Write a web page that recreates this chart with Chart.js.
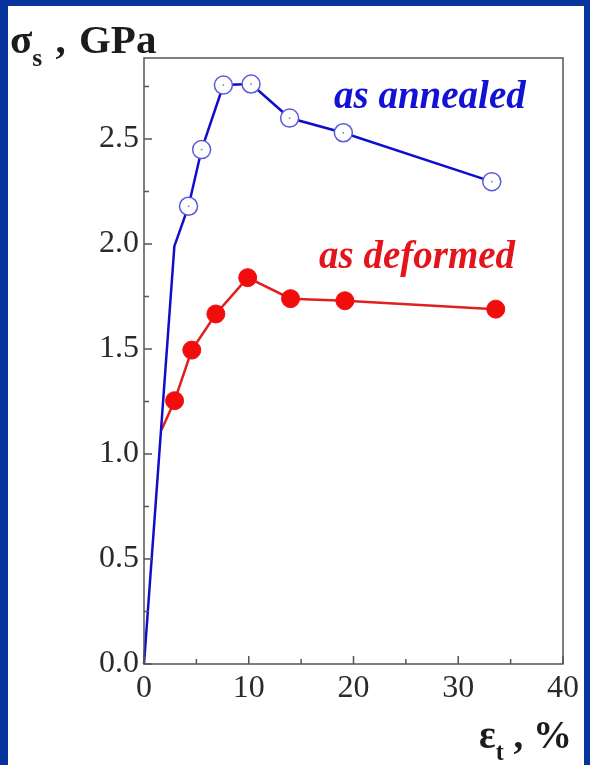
<!DOCTYPE html>
<html>
<head>
<meta charset="utf-8">
<script src="https://cdn.jsdelivr.net/npm/chart.js@4.4.1/dist/chart.umd.min.js"></script>
<style>
  html, body { margin: 0; padding: 0; }
  body { width: 590px; height: 765px; background: #07349c; position: relative; overflow: hidden; }
  #panel { position: absolute; left: 8px; top: 6px; width: 576px; height: 759px; background: #fff; }
  #chart { position: absolute; left: 0; top: 0; }
  .lbl { position: absolute; font-family: "Liberation Serif", "Times New Roman", serif; white-space: nowrap; line-height: 1; }
  .axt { font-weight: bold; color: #1c1c1c; }
  .axt sub { font-size: 0.62em; vertical-align: -0.5em; }
  .note { font-weight: bold; font-style: italic; font-size: 39px; }
</style>
</head>
<body>
<div id="panel">
  <canvas id="chart" width="576" height="759"></canvas>
  <div class="lbl axt" style="left:2px; top:13px; font-size:41px; word-spacing:3px;">σ<sub>s</sub> , GPa</div>
  <div class="lbl axt" style="right:12px; top:709px; font-size:39px;">ε<sub>t</sub> , %</div>
  <div class="lbl note" style="left:326px; top:69px; color:#1212d4;">as annealed</div>
  <div class="lbl note" style="left:311px; top:229px; color:#e3141c;">as deformed</div>
</div>
<script>
// strain (%) and stress (GPa)
const annealedX = [0, 2.9, 4.25, 5.5, 7.58, 10.22, 13.9, 19.03, 33.2];
const annealedY = [0, 1.99, 2.18, 2.45, 2.757, 2.762, 2.60, 2.53, 2.297];
const deformedX = [1.67, 2.92, 4.56, 6.86, 9.9, 13.99, 19.18, 33.58];
const deformedY = [1.114, 1.254, 1.495, 1.667, 1.84, 1.74, 1.73, 1.69];

const xTicks = [0, 10, 20, 30, 40];
const xMinor = [5, 15, 25, 35];
const yTicks = [0, 0.5, 1.0, 1.5, 2.0, 2.5];
const yMinor = [0.25, 0.75, 1.25, 1.75, 2.25, 2.75];

const toPoints = (xs, ys) => xs.map((x, i) => ({ x: x, y: ys[i] }));

// frame and inward ticks
const framePlugin = {
  id: 'frame',
  afterDatasetsDraw(chart) {
    const { ctx, chartArea: a, scales } = chart;
    ctx.save();
    ctx.strokeStyle = '#555';
    ctx.lineWidth = 1.5;
    ctx.strokeRect(a.left, a.top, a.right - a.left, a.bottom - a.top);
    ctx.beginPath();
    xTicks.forEach(v => {
      const px = scales.x.getPixelForValue(v);
      ctx.moveTo(px, a.bottom); ctx.lineTo(px, a.bottom - 8);
    });
    xMinor.forEach(v => {
      const px = scales.x.getPixelForValue(v);
      ctx.moveTo(px, a.bottom); ctx.lineTo(px, a.bottom - 5);
    });
    yTicks.forEach(v => {
      const py = scales.y.getPixelForValue(v);
      ctx.moveTo(a.left, py); ctx.lineTo(a.left + 8, py);
    });
    yMinor.forEach(v => {
      const py = scales.y.getPixelForValue(v);
      ctx.moveTo(a.left, py); ctx.lineTo(a.left + 5, py);
    });
    ctx.stroke();
    // small centre dot inside the open circles
    const meta = chart.getDatasetMeta(0);
    ctx.fillStyle = '#7777aa';
    meta.data.forEach((pt, i) => {
      if (i < 2) return;
      ctx.fillRect(pt.x - 0.75, pt.y - 0.75, 1.5, 1.5);
    });
    ctx.restore();
  }
};

new Chart(document.getElementById('chart'), {
  type: 'scatter',
  data: {
    datasets: [
      {
        label: 'as annealed',
        data: toPoints(annealedX, annealedY),
        showLine: true,
        borderColor: '#0e0ecc',
        borderWidth: 2.5,
        pointRadius: annealedX.map((_, i) => i < 2 ? 0 : 9),
        pointBackgroundColor: '#fff',
        pointBorderColor: '#5a5ad8',
        pointBorderWidth: 1.5
      },
      {
        label: 'as deformed',
        data: toPoints(deformedX, deformedY),
        showLine: true,
        borderColor: '#e02020',
        borderWidth: 2.5,
        pointRadius: deformedX.map((_, i) => i < 1 ? 0 : 9),
        pointBackgroundColor: '#f20d0d',
        pointBorderColor: '#f20d0d',
        pointBorderWidth: 1
      }
    ]
  },
  options: {
    responsive: false,
    animation: false,
    clip: false,
    layout: { padding: { left: 0, right: 16, top: 52, bottom: 0 } },
    plugins: { legend: { display: false }, tooltip: { enabled: false } },
    scales: {
      x: {
        type: 'linear',
        min: 0,
        max: 40,
        afterBuildTicks: s => { s.ticks = xTicks.map(v => ({ value: v })); },
        afterFit: s => { s.height = 101; },
        grid: { display: false, drawTicks: false },
        border: { display: false },
        ticks: {
          padding: 5,
          color: '#2a2a2a',
          font: { family: 'Liberation Serif', size: 32 },
          maxRotation: 0
        }
      },
      y: {
        type: 'linear',
        min: 0,
        max: 2.886,
        afterBuildTicks: s => { s.ticks = yTicks.map(v => ({ value: v })); },
        afterFit: s => { s.width = 136; },
        grid: { display: false, drawTicks: false },
        border: { display: false },
        ticks: {
          padding: 5,
          color: '#2a2a2a',
          font: { family: 'Liberation Serif', size: 32 },
          callback: v => v.toFixed(1)
        }
      }
    }
  },
  plugins: [framePlugin]
});
</script>
</body>
</html>
